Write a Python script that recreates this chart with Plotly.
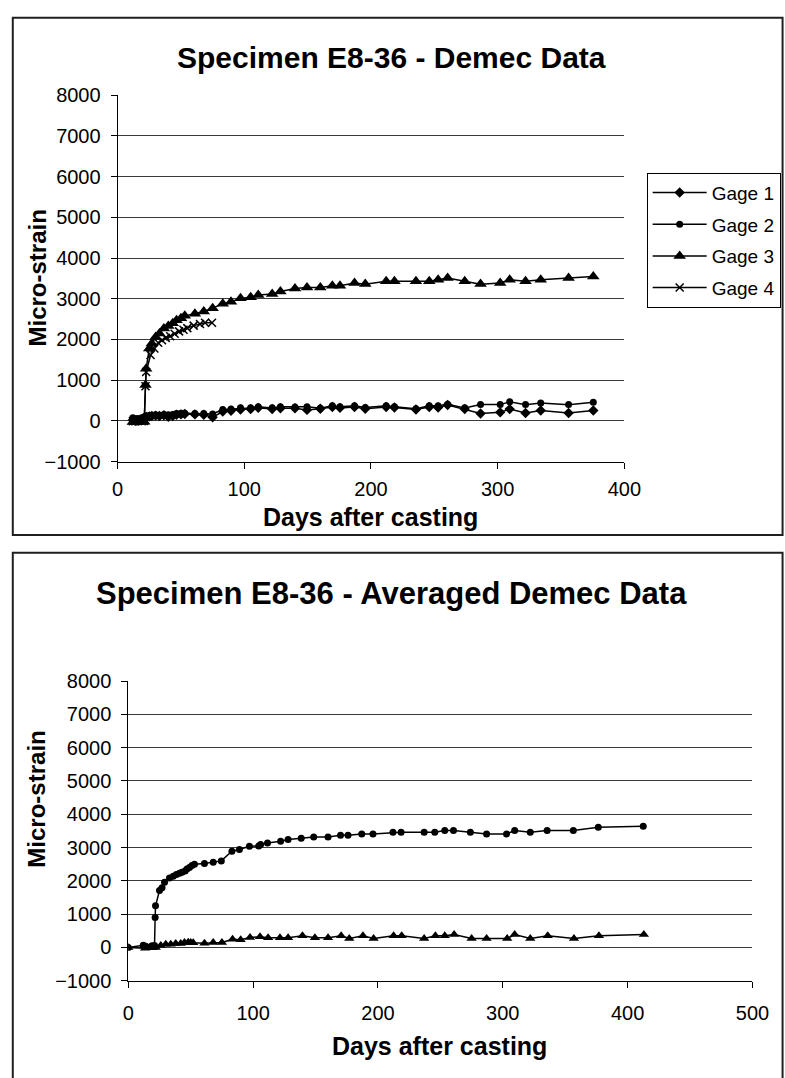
import plotly.graph_objects as go

W, H = 785, 1078

# ---- Specimen E8-36: individual Demec gage readings ----
gage_days = [12, 14, 16, 19, 21, 22, 22.5, 25, 27, 30, 33, 36.5, 40, 43.5, 46.5, 50, 53,
             61, 68, 75, 83, 89.5, 97, 105, 111, 122, 128.5, 140, 149.5, 160, 169.5, 175.5,
             187, 195.5, 212, 218.5, 235.5, 246, 253, 260.5, 274, 286.5, 302, 309.5, 322,
             334, 356, 375.5]
gage1 = [20, 0, 10, 30, 40, 60, 100, 110, 120, 130, 120, 140, 100, 120, 150, 160, 170,
         160, 150, 90, 230, 250, 280, 290, 320, 290, 310, 310, 270, 300, 340, 320,
         340, 300, 340, 330, 280, 340, 330, 390, 290, 180, 210, 290, 195, 255, 195, 255]
gage2 = [80, 50, 60, 80, 100, 100, 120, 130, 140, 150, 140, 160, 150, 160, 180, 190, 190,
         180, 180, 170, 280, 290, 320, 320, 350, 320, 350, 340, 350, 310, 370, 350,
         370, 330, 370, 350, 300, 370, 370, 410, 320, 400, 400, 470, 400, 440, 400, 460]
gage3 = [-30, -30, -20, -30, -20, 880, 1280, 1780, 1900, 2060, 2150, 2270, 2330, 2400, 2470,
         2520, 2580, 2630, 2690, 2770, 2880, 2930, 3010, 3040, 3090, 3120, 3180, 3250, 3280,
         3280, 3320, 3320, 3390, 3360, 3430, 3430, 3430, 3430, 3470, 3510, 3430, 3360, 3390,
         3470, 3430, 3470, 3510, 3550]
gage4_days = [12, 14, 16, 19, 21, 22, 22.5, 26, 29, 32, 35, 38, 41.5, 45, 48.5, 52, 55,
              60, 65, 69, 74.5]
gage4 = [-10, -10, 0, -10, 0, 850, 1200, 1620, 1780, 1920, 1980, 2040, 2080, 2140, 2200,
         2240, 2280, 2340, 2380, 2410, 2410]

# ---- Specimen E8-36: averaged Demec data ----
avg_hi_days = [0, 12, 14, 19, 21, 21.5, 21.8, 25, 27, 29, 33, 36, 38.5, 41, 43, 45.5, 47, 49,
               51, 53, 61, 68, 74.5, 83, 89, 97, 104.5, 106, 111.5, 122, 128, 138.5, 148.5,
               160, 170, 176, 187, 196, 212, 218.5, 237, 245.5, 253.5, 260.5, 274, 287, 303,
               309.5, 322, 335.5, 356.5, 376.5, 412.5]
avg_hi = [0, 70, 40, 50, 60, 900, 1250, 1710, 1790, 1960, 2090, 2140, 2190, 2230, 2260, 2300,
          2360, 2400, 2460, 2500, 2520, 2560, 2600, 2890, 2940, 3040, 3050, 3090, 3140, 3190,
          3240, 3280, 3320, 3320, 3370, 3370, 3410, 3410, 3460, 3460, 3460, 3460, 3510, 3510,
          3460, 3410, 3410, 3510, 3460, 3510, 3510, 3610, 3640]
avg_lo_days = [0, 13.5, 17, 19.5, 22, 26, 30, 34, 38, 42, 45, 48, 50, 52, 61, 68, 75, 83.5, 90,
               97.5, 105.5, 112, 121.5, 128, 139.5, 149.5, 160, 170.5, 177, 188, 196.5, 212.5,
               219, 237, 246, 253.5, 261, 275, 287, 303.5, 309.5, 322, 336, 357, 377, 413]
avg_lo = [0, -20, 0, -10, 0, 60, 100, 100, 120, 120, 150, 160, 150, 140, 130, 150, 150, 245,
          230, 300, 320, 290, 290, 290, 350, 290, 290, 350, 270, 350, 270, 350, 350, 270, 350,
          350, 390, 270, 270, 270, 390, 270, 350, 270, 350, 390]

y_ticks = [-1000, 0, 1000, 2000, 3000, 4000, 5000, 6000, 7000, 8000]
top_x_ticks = [0, 100, 200, 300, 400]
bot_x_ticks = [0, 100, 200, 300, 400, 500]

FONT = "Liberation Sans, Arial, sans-serif"


def fx(px):
    return px / W


def fy(py):
    return 1 - py / H


fig = go.Figure()

line = dict(color="black", width=1.5)
fig.add_trace(go.Scatter(x=gage_days, y=gage1, name="Gage 1", mode="lines+markers",
                         line=line, marker=dict(symbol="diamond", size=8, color="black"),
                         legendgroup="g1", xaxis="x", yaxis="y"))
fig.add_trace(go.Scatter(x=gage_days, y=gage2, name="Gage 2", mode="lines+markers",
                         line=line, marker=dict(symbol="circle", size=7, color="black"),
                         legendgroup="g2", xaxis="x", yaxis="y"))
fig.add_trace(go.Scatter(x=gage_days, y=gage3, name="Gage 3", mode="lines+markers",
                         line=line, marker=dict(symbol="triangle-up", size=11, color="black"),
                         legendgroup="g3", xaxis="x", yaxis="y"))
fig.add_trace(go.Scatter(x=gage4_days, y=gage4, name="Gage 4", mode="lines+markers",
                         line=line,
                         marker=dict(symbol="x-thin", size=8, color="black",
                                     line=dict(color="black", width=1.5)),
                         legendgroup="g4", xaxis="x", yaxis="y"))

fig.add_trace(go.Scatter(x=avg_hi_days, y=avg_hi, mode="lines+markers", showlegend=False,
                         line=line, marker=dict(symbol="circle", size=7, color="black"),
                         xaxis="x2", yaxis="y2"))
fig.add_trace(go.Scatter(x=avg_lo_days, y=avg_lo, mode="lines+markers", showlegend=False,
                         line=line, marker=dict(symbol="triangle-up", size=9, color="black"),
                         xaxis="x2", yaxis="y2"))

axis_common = dict(showline=True, linecolor="black", linewidth=1, ticks="outside",
                   ticklen=6, tickcolor="black", zeroline=False,
                   tickfont=dict(family=FONT, size=20, color="black"))

fig.update_layout(
    width=W, height=H,
    margin=dict(l=0, r=0, t=0, b=0),
    paper_bgcolor="white", plot_bgcolor="white",
    font=dict(family=FONT, color="black"),
    xaxis=dict(domain=[fx(115), fx(637)], range=[0, 400], tickvals=top_x_ticks,
               showgrid=False, anchor="y", ticklabelstandoff=3, **axis_common),
    yaxis=dict(domain=[fy(460), fy(86)], range=[-1000, 8000], tickvals=y_ticks,
               showgrid=True, gridcolor="#3a3a3a", gridwidth=1, anchor="x",
               ticklabelstandoff=6, **axis_common),
    xaxis2=dict(domain=[fx(126), fx(769)], range=[0, 500], tickvals=bot_x_ticks,
                showgrid=False, anchor="y2", ticklabelstandoff=8, **axis_common),
    yaxis2=dict(domain=[fy(990), fy(684)], range=[-1000, 8000], tickvals=y_ticks,
                showgrid=True, gridcolor="#3a3a3a", gridwidth=1, anchor="x2",
                ticklabelstandoff=6, **axis_common),
    legend=dict(x=fx(660), y=fy(165), xanchor="left", yanchor="top",
                bordercolor="black", borderwidth=1, bgcolor="white",
                font=dict(family=FONT, size=19, color="black"),
                tracegroupgap=4, itemwidth=54),
    showlegend=True,
)

# chart frames
fig.add_shape(type="rect", xref="paper", yref="paper",
              x0=fx(7), x1=fx(800), y0=fy(535), y1=fy(7),
              line=dict(color="#202020", width=2))
fig.add_shape(type="rect", xref="paper", yref="paper",
              x0=fx(7), x1=fx(800), y0=fy(1100), y1=fy(553),
              line=dict(color="#202020", width=2))

texts = [
    ("Specimen E8-36 - Demec Data", 397, 47, 30, 0),
    ("Micro-strain", 32, 273, 24, -90),
    ("Days after casting", 376, 517, 25, 0),
    ("Specimen E8-36 - Averaged Demec Data", 397, 595, 31, 0),
    ("Micro-strain", 32, 805, 24, -90),
    ("Days after casting", 447, 1057, 25, 0),
]
for txt, px, py, size, ang in texts:
    fig.add_annotation(text="<b>%s</b>" % txt, xref="paper", yref="paper",
                       x=fx(px), y=fy(py), xanchor="center", yanchor="middle",
                       showarrow=False, textangle=ang,
                       font=dict(family=FONT, size=size, color="black"))

fig.write_html("out.html")
